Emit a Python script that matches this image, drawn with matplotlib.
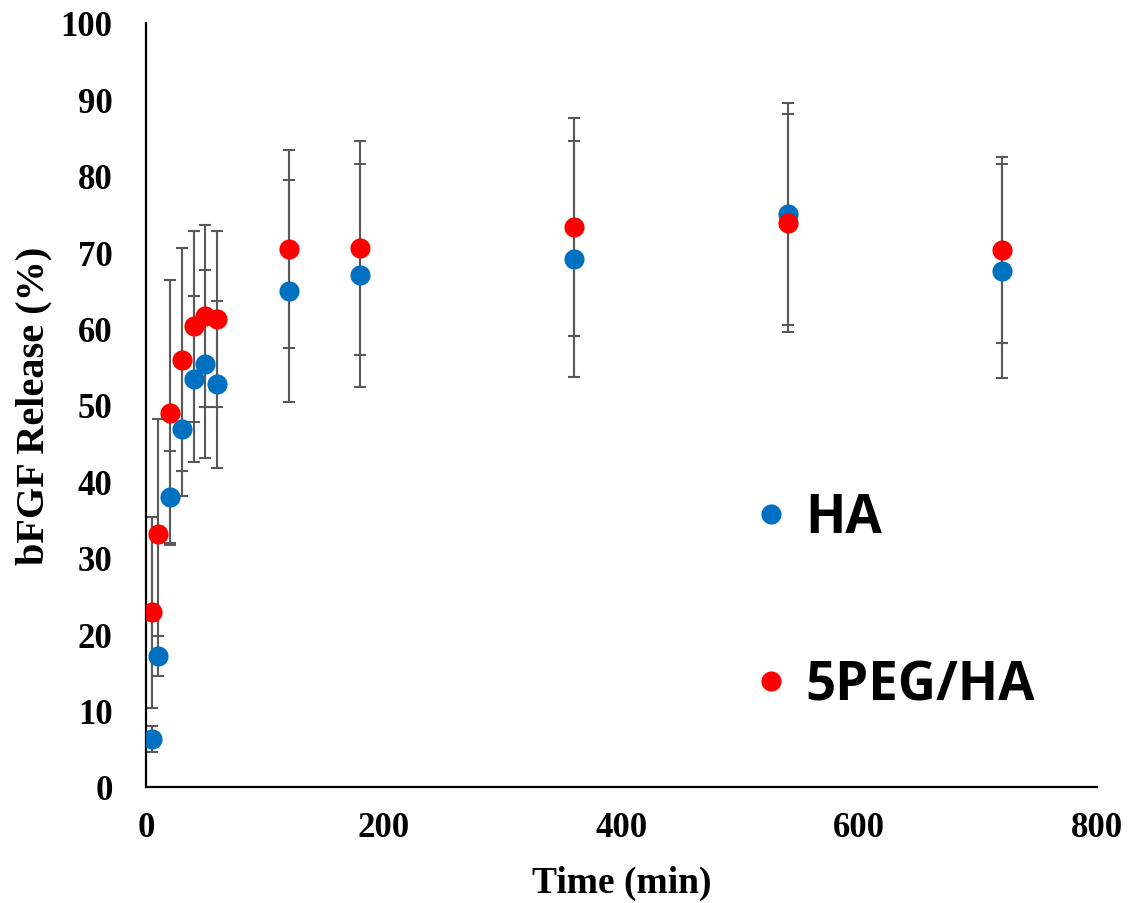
import matplotlib
matplotlib.use("Agg")
import matplotlib.pyplot as plt
from matplotlib.lines import Line2D

# ---- data ----
time_min = [5, 10, 20, 30, 40, 50, 60, 120, 180, 360, 540, 720]
ha_release = [6.3, 17.1, 38.0, 46.9, 53.4, 55.4, 52.7, 64.9, 67.0, 69.1, 75.0, 67.5]
ha_sd = [1.7, 2.6, 6.0, 8.8, 10.9, 12.3, 10.9, 14.5, 14.6, 15.4, 14.5, 14.0]
peg_release = [22.9, 33.1, 49.0, 55.9, 60.3, 61.6, 61.3, 70.4, 70.5, 73.3, 73.8, 70.3]
peg_sd_low = [12.5, 13.3, 17.3, 14.6, 12.5, 11.9, 11.5, 13.0, 14.0, 14.3, 14.3, 12.2]
peg_sd_high = [12.5, 15.1, 17.3, 14.6, 12.5, 11.9, 11.5, 13.0, 14.0, 14.3, 14.3, 12.2]
series_names = ["HA", "5PEG/HA"]
x_ticks = [0, 200, 400, 600, 800]
y_ticks = [0, 10, 20, 30, 40, 50, 60, 70, 80, 90, 100]

BLUE = "#0070C0"
RED = "#FF0000"
GRAY = "#595959"

fig = plt.figure(figsize=(11.44, 9.04), dpi=100)
ax = fig.add_axes([146 / 1144, 1 - 788 / 904, (1097 - 146) / 1144, (788 - 24) / 904])

ax.errorbar(time_min, ha_release, yerr=ha_sd, fmt="none", ecolor=GRAY,
            elinewidth=1.5, capsize=4, capthick=1.5, zorder=2)
ax.errorbar(time_min, peg_release, yerr=[peg_sd_low, peg_sd_high], fmt="none",
            ecolor=GRAY, elinewidth=1.5, capsize=4, capthick=1.5, zorder=2)
ax.plot(time_min, ha_release, "o", color=BLUE, markersize=14.5, markeredgewidth=0, zorder=3)
ax.plot(time_min, peg_release, "o", color=RED, markersize=14.5, markeredgewidth=0, zorder=4)

ax.set_xlim(0, 800)
ax.set_ylim(0, 100)
ax.set_xticks(x_ticks)
ax.set_yticks(y_ticks)

tick_font = {"family": "Liberation Serif", "weight": "bold", "size": 25}
ax.set_xticklabels([str(v) for v in x_ticks], fontdict=tick_font)
ax.set_yticklabels([str(v) for v in y_ticks], fontdict=tick_font)
ax.tick_params(axis="both", length=0)
ax.tick_params(axis="x", pad=17)
ax.tick_params(axis="y", pad=24)

for side in ["top", "right"]:
    ax.spines[side].set_visible(False)
for side in ["left", "bottom"]:
    ax.spines[side].set_linewidth(1.6)
    ax.spines[side].set_color("black")

ax.set_xlabel("Time (min)", fontdict={"family": "Liberation Serif", "weight": "bold", "size": 27},
              labelpad=15)
ax.set_ylabel("bFGF Release (%)", fontdict={"family": "Liberation Serif", "weight": "bold", "size": 29},
              labelpad=6)

handles = [Line2D([], [], marker="o", linestyle="none", color=BLUE, markersize=14.5, markeredgewidth=0),
           Line2D([], [], marker="o", linestyle="none", color=RED, markersize=14.5, markeredgewidth=0)]
leg = ax.legend(handles, series_names, frameon=False, loc="upper left",
                bbox_to_anchor=(0.624, 0.415), prop={"family": "Open Sans", "weight": "bold", "size": 38},
                labelspacing=2.15, handlelength=0.4, handletextpad=0.45, borderaxespad=0)

fig.savefig("out.png", dpi=100)
